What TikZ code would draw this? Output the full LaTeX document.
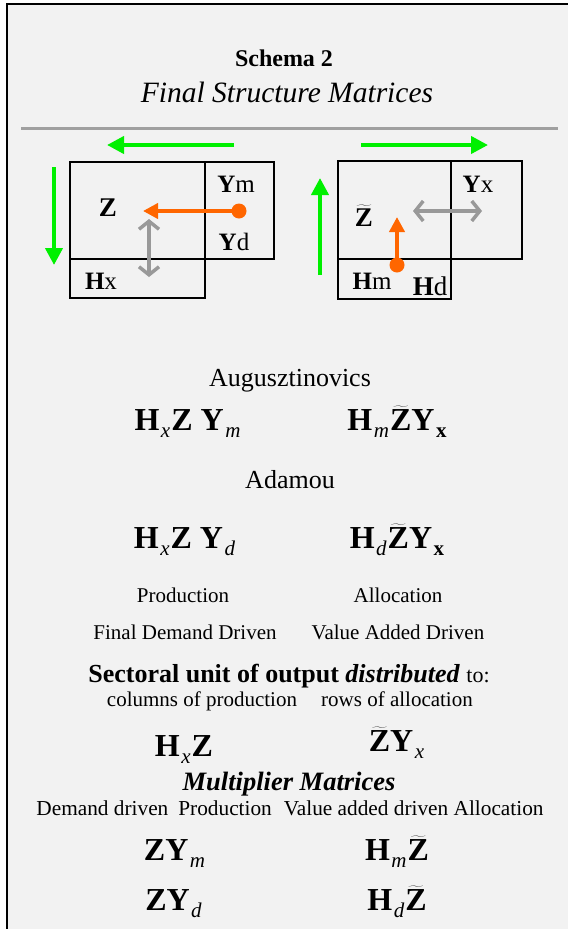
\documentclass[tikz,border=0pt]{standalone}
\usepackage{fontspec}
\setmainfont{LiberationSerif}[Extension=.ttf,UprightFont=*-Regular,BoldFont=*-Bold,ItalicFont=*-Italic,BoldItalicFont=*-BoldItalic]
\usetikzlibrary{arrows.meta}
\definecolor{panel}{HTML}{F2F2F2}
\definecolor{rulegray}{HTML}{A0A0A0}
\definecolor{flowgreen}{HTML}{00F000}
\definecolor{shockorange}{HTML}{FF6600}
\definecolor{linkgray}{HTML}{999999}
\newcommand\fsz[1]{\fontsize{#1}{#1}\selectfont}
\newcommand\subit[1]{\kern1.5pt\raisebox{-7pt}{\fsz{21}\normalfont\itshape #1}\kern1pt}
\newcommand\subbf[1]{\kern1.5pt\raisebox{-7pt}{\fsz{21}\normalfont\bfseries #1}}
\newcommand\tildeZ{$\widetilde{\mbox{\textbf{Z}}}$}

\begin{document}
\begin{tikzpicture}[x=1pt,y=-1pt,
    cell/.style={draw=black,line width=2.3pt},
    flow/.style={draw=flowgreen,line width=4pt,-{Triangle[length=17pt,width=17pt]}},
    shock/.style={draw=shockorange,line width=4pt,-{Triangle[length=15pt,width=15pt]}},
    link/.style={draw=linkgray,line width=3.5pt,{Straight Barb[length=8pt,width=20pt]}-{Straight Barb[length=8pt,width=20pt]}},
    txt/.style={anchor=base,inner sep=0pt,font=\fsz{21}},
    lab/.style={anchor=base,inner sep=0pt,font=\fsz{25}},
    fml/.style={anchor=base,inner sep=0pt,font=\fsz{32}\bfseries}]
    \path [use as bounding box] (0,0) rectangle (568,929);
    \fill [panel] (7,4) rectangle (568,929);
    \draw [line width=2pt] (7,929) -- (7,4) -- (568,4);
    \node [txt,font=\fsz{24}\bfseries] (schema) at (284,66) {Schema 2};
    \node [txt,font=\fsz{29.5}\itshape] (title) at (287,102) {Final Structure Matrices};
    \draw [rulegray,line width=3pt] (21,128) -- (558,128);

    \draw [cell] (70,162) rectangle (205,259) (205,162) rectangle (274,259) (70,259) rectangle (205,298);
    \node [lab,font=\fsz{27}] (Z) at (108,216) {\textbf{Z}};
    \node [lab] (Ym) at (236,192) {\textbf{Y}m};
    \node [lab] (Yd) at (234,250) {\textbf{Y}d};
    \node [lab] (Hx) at (101,289) {\textbf{H}x};
    \coordinate (gl1) at (234,145);
    \coordinate (gl2) at (107,145);
    \coordinate (gd1) at (54,167);
    \coordinate (gd2) at (54,265);
    \coordinate (ol1) at (239,211);
    \coordinate (ol2) at (143,211);
    \coordinate (kl1) at (149,219);
    \coordinate (kl2) at (149,277);
    \draw [flow] (gl1) -- (gl2);
    \draw [flow] (gd1) -- (gd2);
    \draw [shock] (ol1) -- (ol2);
    \fill [shockorange] (ol1) circle (7.5pt);
    \draw [link] (kl1) -- (kl2);

    \draw [cell] (338,161) rectangle (451,259) (451,161) rectangle (522,259) (338,259) rectangle (451,299);
    \node [lab,font=\fsz{27}] (tZ) at (364,226) {\tildeZ};
    \node [lab] (Yx) at (478,192) {\textbf{Y}x};
    \node [lab] (Hm) at (372,289) {\textbf{H}m};
    \node [lab,font=\fsz{27}] (Hd) at (430,295) {\textbf{H}d};
    \coordinate (gr1) at (361,145);
    \coordinate (gr2) at (488,145);
    \coordinate (gu1) at (320,275);
    \coordinate (gu2) at (320,178);
    \coordinate (or1) at (397,265);
    \coordinate (or2) at (397,217);
    \coordinate (kr1) at (413,211);
    \coordinate (kr2) at (482,211);
    \draw [flow] (gr1) -- (gr2);
    \draw [flow] (gu1) -- (gu2);
    \draw [shock] (or1) -- (or2);
    \fill [shockorange] (or1) circle (7.5pt);
    \draw [link] (kr1) -- (kr2);

    \node [txt,font=\fsz{26}] (aug) at (290,386) {Augusztinovics};
    \node [fml] (augL) at (188,430) {H\subit{x}Z Y\subit{m}};
    \node [fml] (augR) at (397,430) {H\subit{m}\tildeZ Y\subbf{x}};
    \node [txt,font=\fsz{26}] (ada) at (290,488) {Adamou};
    \node [fml] (adaL) at (185,548) {H\subit{x}Z Y\subit{d}};
    \node [fml] (adaR) at (397,548) {H\subit{d}\tildeZ Y\subbf{x}};
    \node [txt] (prod) at (183,602) {Production};
    \node [txt] (allo) at (398,602) {Allocation};
    \node [txt] (fdd)  at (185,639) {Final Demand Driven};
    \node [txt] (vad)  at (398,639) {Value Added Driven};
    \node [txt,font=\fsz{26}] (sect) at (289,682) {\textbf{Sectoral unit of output \textit{distributed}} {\fsz{22}to:}};
    \node [txt] (cols) at (202,706) {columns of production};
    \node [txt] (rows) at (397,706) {rows of allocation};
    \node [fml] (distL) at (184,756) {H\subit{x}Z};
    \node [fml] (distR) at (397,751) {\tildeZ Y\subit{x}};
    \node [txt,font=\fsz{26.5}\bfseries\itshape] (mult) at (289,790) {Multiplier Matrices};
    \node [txt,font=\fsz{21.3}] (kind) at (290,815) {Demand driven\hspace{10pt}Production\hspace{12pt}Value added driven Allocation};
    \node [fml] (multLm) at (175,860) {ZY\subit{m}};
    \node [fml] (multRm) at (397,860) {H\subit{m}\tildeZ};
    \node [fml] (multLd) at (174,910) {ZY\subit{d}};
    \node [fml] (multRd) at (397,910) {H\subit{d}\tildeZ};
\end{tikzpicture}
\end{document}
